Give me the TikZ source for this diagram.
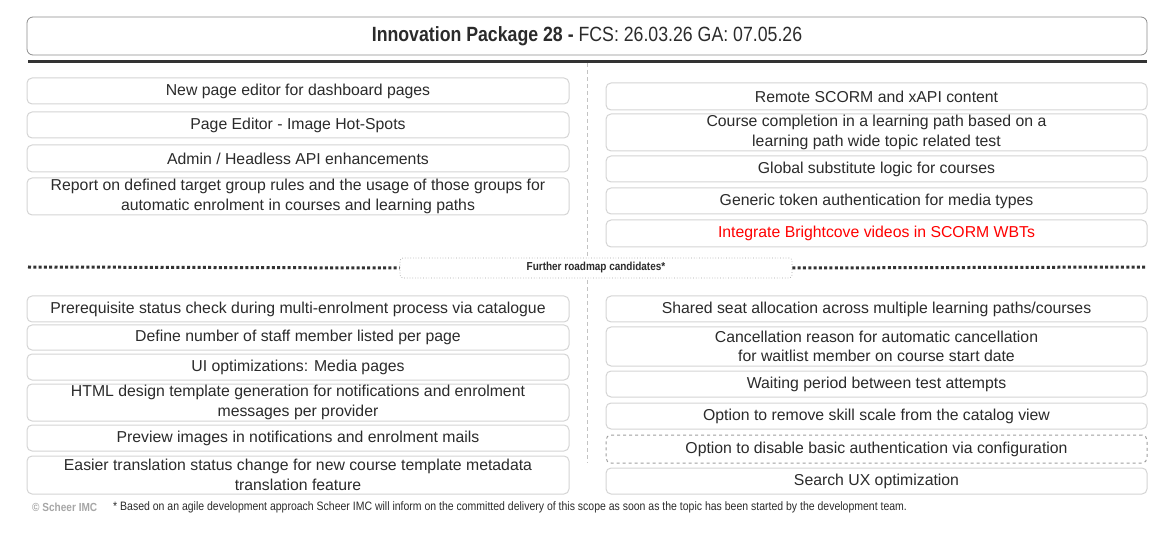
\documentclass[tikz,border=0pt]{standalone}
\usepackage{fontspec}
\setmainfont{Liberation Sans}
\newfontfamily\condfont[FakeStretch=0.86]{Liberation Sans}
\definecolor{txt}{HTML}{2B2B2B}
\definecolor{bord}{HTML}{D4D4D4}
\definecolor{hbord}{HTML}{8C8C8C}
\definecolor{rule}{HTML}{333333}
\definecolor{redtxt}{HTML}{FF0000}
\definecolor{copy}{HTML}{A6A6A6}
\tikzset{
  box/.style={draw=bord, line width=1pt, rounded corners=5pt, fill=white, text=txt,
    align=center, inner sep=0pt, font=\fontsize{15.8}{19.5}\selectfont},
  lbox/.style={box, minimum width=542pt},
  rbox/.style={box, minimum width=541pt},
  sepline/.style={rule, line width=3pt, dash pattern=on 3pt off 2.3pt},
}
\begin{document}
\begin{tikzpicture}[x=1pt,y=-1pt]
\useasboundingbox (0,0) rectangle (1169,534);
% header
\node[draw=hbord, line width=0.8pt, rounded corners=6pt, minimum width=1120pt, minimum height=38pt, inner sep=0pt, text=txt,
  font=\condfont\fontsize{20.6}{22}\selectfont] (hdr) at (587,36) {\textbf{Innovation Package 28 -} FCS: 26.03.26 GA: 07.05.26};
\coordinate (ruleL) at (28,62);
\coordinate (ruleR) at (1147,62);
\draw[rule, line width=3pt] (ruleL) -- (ruleR);
\coordinate (vtop) at (587,63);
\coordinate (vbot) at (587,463);
\draw[bord!80!gray, line width=0.8pt, dash pattern=on 4pt off 3pt] (vtop) -- (vbot);
% separator
\node[draw=gray!70, dotted, line width=0.7pt, rounded corners=3pt, minimum width=392pt, minimum height=20pt, inner sep=0pt, fill=white,
  font=\condfont\bfseries\fontsize{11.6}{13}\selectfont, text=txt] (sep) at (596,268) {Further roadmap candidates*};
\coordinate (sepL) at (28,267);
\coordinate (sepR) at (1147,267);
\draw[sepline] (sepL) -- (sep.west);
\draw[sepline] (sep.east) -- (sepR);
% top left
\node[lbox, minimum height=26pt] (l1) at (298,91) {New page editor for dashboard pages};
\node[lbox, minimum height=26pt] (l2) at (298,125) {Page Editor - Image Hot-Spots};
\node[lbox, minimum height=27pt] (l3) at (298,158.5) {Admin / Headless API enhancements};
\node[lbox, minimum height=37pt] (l4) at (298,196.5) {Report on defined target group rules and the usage of those groups for\\automatic enrolment in courses and learning paths};
% top right
\node[rbox, minimum height=27pt] (r1) at (876.5,96.5) {Remote SCORM and xAPI content};
\node[rbox, minimum height=37pt] (r2) at (876.5,132.5) {Course completion in a learning path based on a\\learning path wide topic related test};
\node[rbox, minimum height=26pt] (r3) at (876.5,169) {Global substitute logic for courses};
\node[rbox, minimum height=26pt] (r4) at (876.5,201) {Generic token authentication for media types};
\node[rbox, minimum height=27pt, text=redtxt] (r5) at (876.5,233.5) {Integrate Brightcove videos in SCORM WBTs};
% bottom left
\node[lbox, minimum height=26pt] (l5) at (298,309) {Prerequisite status check during multi-enrolment process via catalogue};
\node[lbox, minimum height=25pt] (l6) at (298,337.5) {Define number of staff member listed per page};
\node[lbox, minimum height=26pt] (l7) at (298,367) {UI optimizations: Media pages};
\node[lbox, minimum height=37pt] (l8) at (298,402.5) {HTML design template generation for notifications and enrolment\\messages per provider};
\node[lbox, minimum height=26pt] (l9) at (298,438) {Preview images in notifications and enrolment mails};
\node[lbox, minimum height=38pt] (l10) at (298,475) {Easier translation status change for new course template metadata\\translation feature};
% bottom right
\node[rbox, minimum height=26pt] (r6) at (876.5,309) {Shared seat allocation across multiple learning paths/courses};
\node[rbox, minimum height=39pt] (r7) at (876.5,346.5) {Cancellation reason for automatic cancellation\\for waitlist member on course start date};
\node[rbox, minimum height=26pt] (r8) at (876.5,384) {Waiting period between test attempts};
\node[rbox, minimum height=26pt] (r9) at (876.5,416) {Option to remove skill scale from the catalog view};
\node[rbox, minimum height=28pt, draw=gray!75, dashed] (r10) at (876.5,449) {Option to disable basic authentication via configuration};
\node[rbox, minimum height=26pt] (r11) at (876.5,481) {Search UX optimization};
% footer
\node[anchor=west, inner sep=0pt, text=copy, font=\condfont\bfseries\fontsize{11.7}{13}\selectfont] (cp) at (32,507) {© Scheer IMC};
\node[anchor=west, inner sep=0pt, text=txt, font=\condfont\fontsize{12.2}{14}\selectfont] (fn) at (113,507) {* Based on an agile development approach Scheer IMC will inform on the committed delivery of this scope as soon as the topic has been started by the development team.};
\end{tikzpicture}
\end{document}
